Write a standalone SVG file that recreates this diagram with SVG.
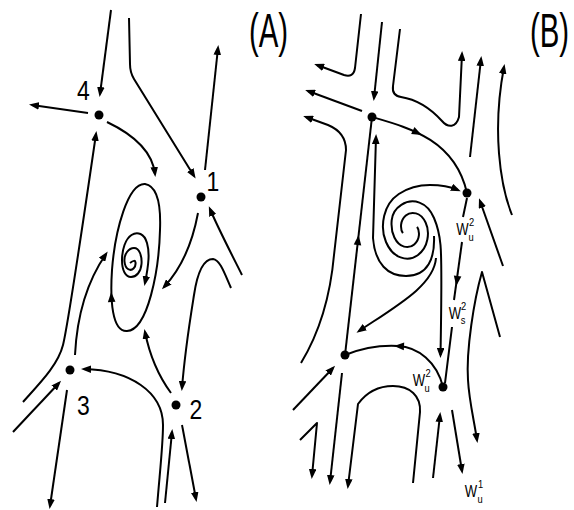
<svg xmlns="http://www.w3.org/2000/svg" width="574" height="510" viewBox="0 0 574 510">
<style>
.c path, .c ellipse { fill: none; stroke: #000; stroke-width: 2; stroke-linejoin: round; }
.m { marker-end: url(#arr); }
.dot { fill: #000; }
text { font-family: "Liberation Sans", Arial, sans-serif; fill: #000; text-anchor: middle; }
.big { font-size: 49px; }
.num { font-size: 28px; }
.w { font-size: 16px; }
.ss { font-size: 11px; }
</style>
<defs>
<marker id="arr" viewBox="0 0 10 7.6" refX="7" refY="3.8" markerWidth="10" markerHeight="7.6" markerUnits="userSpaceOnUse" orient="auto">
<path d="M0,0 L10,3.8 L0,7.6 Z" fill="#000"/>
</marker>
<path id="ah" d="M2,0 L-8,-3.8 L-8,3.8 Z" fill="#000"/>
</defs>
<rect width="574" height="510" fill="#fff"/>

<g id="connectors" class="c">
<!-- Panel A -->
<path class="m" d="M111,10 L100,94"/>
<path class="m" d="M88,113 L32,105"/>
<path class="m" d="M107,122 C128,132 152,148 155,174"/>
<path class="m" d="M129,18 L130,64 C130,70 131,74 134,79 L194,176"/>
<path class="m" d="M205,170 L218,48"/>
<path class="m" d="M198,213 C192,245 180,270 164,287"/>
<path class="m" d="M242,275 C233,257 218,228 210,209"/>
<path class="m" d="M231,288 C224,272 220,260 213,259 C203,259 197,275 194,295 C190,320 185,350 182,388"/>
<path class="m" d="M171,393 C160,378 150,357 145,332"/>
<path class="m" d="M157,507 C160,470 163,445 163,425 C163,392 130,370 84,369"/>
<path class="m" d="M165,503 L172,432"/>
<path class="m" d="M182,425 L196,499"/>
<path class="m" d="M75,355 C77,315 88,280 106,254"/>
<path class="m" d="M13,432 L59,383"/>
<path class="m" d="M23,402 C40,383 58,365 63,345 C68,325 82,230 96,134"/>
<path class="m" d="M67,390 L50,506"/>
<path d="M145,184 C157,186 161,205 160,230 C159,270 148,330 127,331 C112,332 110,300 112,270 C115,230 128,183 145,184 Z"/>
<use href="#ah" transform="translate(111.3,294) rotate(-92.5)"/>
<path class="m" d="M130,263 Q135,259 135.5,262.5 Q136,266 133.5,268.5 Q131,271 128,269 Q125,267 124.5,261.5 Q124,256 127,252 Q130,248 134,248 Q138,248 140,253 Q142,258 141.5,264 Q141,270 138,273.5 Q135,277 131,277 Q127,277 124.5,272.5 Q122,268 122,260 Q122,252 124.5,245 Q127,238 131.5,235 Q136,232 140.5,234 Q145,236 147,243 Q149,250 148.5,259 Q148,268 145,283"/>

<!-- Panel B -->
<path class="m" d="M361,14 L355,68 C354,75 350,77 344,75 L317,65"/>
<path class="m" d="M382,22 L374,98"/>
<path class="m" d="M362,111 L308,91"/>
<path class="m" d="M301,363 C318,335 330,300 334,255 L346,150 C346,138 340,130 328,125 L306,117"/>
<path d="M345,355 L372,117"/>
<use href="#ah" transform="translate(358.4,237) rotate(-83.5)"/>
<path d="M372,117 C410,128 455,140 467,193"/>
<use href="#ah" transform="translate(420,134) rotate(26)"/>
<path class="m" d="M400,29 L393,86 C392,93 395,96 401,97 C420,100 432,110 442,121 C448,128 456,128 459,117 L462,54"/>
<path class="m" d="M470,157 L481,59"/>
<path class="m" d="M512,215 C500,185 492,130 504,67"/>
<path class="m" d="M503,266 L480,201"/>
<path class="m" d="M500,337 L482,272 C474,300 466,350 468,380 C469,400 474,420 477,440"/>
<path d="M467,198 L463,217"/>
<path d="M462,242 L454,300"/>
<use href="#ah" transform="translate(456.5,284) rotate(97.9)"/>
<path d="M452,327 L445,383"/>
<path d="M443,387 C437,362 418,347 398,346 C380,345 360,349 345,355"/>
<use href="#ah" transform="translate(396,346) rotate(183)"/>
<path class="m" d="M433,478 L440,415"/>
<path class="m" d="M452,410 L462,471"/>
<path class="m" d="M413,483 L420,412 C421,396 410,386 393,386 C377,386 366,393 358,404 L348,486"/>
<path class="m" d="M342,373 L330,482"/>
<path class="m" d="M293,410 L333,368"/>
<path class="m" d="M300,440 L317,423 L312,476"/>
<!-- B spiral -->
<path class="m" d="M402.9,233.1 Q400.65,230 401.1,224.7 Q401.6,219.4 405.8,215.6 Q410,211.8 416,213.4 Q421.9,214.9 425.6,222.5 Q429.25,230 427.3,239.8 Q425.4,249.6 417.7,255.2 Q410,260.8 400.6,257.4 Q391.1,254 386,242 Q380.85,230 384.2,215.8 Q387.6,201.5 398.8,194 C407.8,188 418,185 430,185 C441,185 451,187 458,190"/>
<path class="m" d="M417.1,226.9 Q419.35,230 418.9,235.3 Q418.4,240.6 414.2,244.4 Q410,248.2 404.05,246.65 Q398.1,245.1 394.4,237.55 Q390.75,230 391.7,220.2 Q392.6,210.4 401.3,204.8 Q410,199.2 419.45,202.6 Q428.9,206 434,218 Q439.15,230 440.5,245 C441.7,258 441.5,300 440.5,355"/>
<path class="m" d="M434,236 C435,258 428,276 406,276 C388,276 375,264 373,238 L376,137"/>
<path class="m" d="M436,258 C434,285 398,305 359,331"/>
</g>

<g id="nodeA4"><circle class="dot" cx="99" cy="115" r="4.5"/><text class="num" transform="translate(83.5,100) scale(0.82,1)">4</text></g>
<g id="nodeA1"><circle class="dot" cx="201" cy="197" r="4.5"/><text class="num" transform="translate(213,191) scale(0.82,1)">1</text></g>
<g id="nodeA3"><circle class="dot" cx="70" cy="370" r="4.5"/><text class="num" transform="translate(83.5,415) scale(0.82,1)">3</text></g>
<g id="nodeA2"><circle class="dot" cx="176" cy="405" r="4.5"/><text class="num" transform="translate(196,419) scale(0.82,1)">2</text></g>
<g id="labelA"><text class="big" transform="translate(268.5,47) scale(0.6,1)">(A)</text></g>
<g id="labelB"><text class="big" transform="translate(549.5,47) scale(0.6,1)">(B)</text></g>

<g id="nodeBtop"><circle class="dot" cx="372" cy="117" r="4.5"/></g>
<g id="nodeBright"><circle class="dot" cx="467" cy="193" r="4.5"/>
<text class="w" transform="translate(462.5,235) scale(0.82,1)">W</text>
<text class="ss" transform="translate(471.5,226) scale(0.85,1)">2</text>
<text class="ss" transform="translate(471,241) scale(0.85,1)">u</text>
</g>
<g id="labelWs"><text class="w" transform="translate(455,319) scale(0.82,1)">W</text>
<text class="ss" transform="translate(463.5,310) scale(0.85,1)">2</text>
<text class="ss" transform="translate(463,324) scale(0.85,1)">s</text></g>
<g id="nodeBleft"><circle class="dot" cx="345" cy="355" r="4.5"/></g>
<g id="nodeBlow"><circle class="dot" cx="443" cy="387" r="4.5"/>
<text class="w" transform="translate(419,386) scale(0.82,1)">W</text>
<text class="ss" transform="translate(428,377) scale(0.85,1)">2</text>
<text class="ss" transform="translate(427,392) scale(0.85,1)">u</text></g>
<g id="labelWu1"><text class="w" transform="translate(471,497) scale(0.82,1)">W</text>
<text class="ss" transform="translate(480.5,488) scale(0.85,1)">1</text>
<text class="ss" transform="translate(480,503) scale(0.85,1)">u</text></g>
</svg>
